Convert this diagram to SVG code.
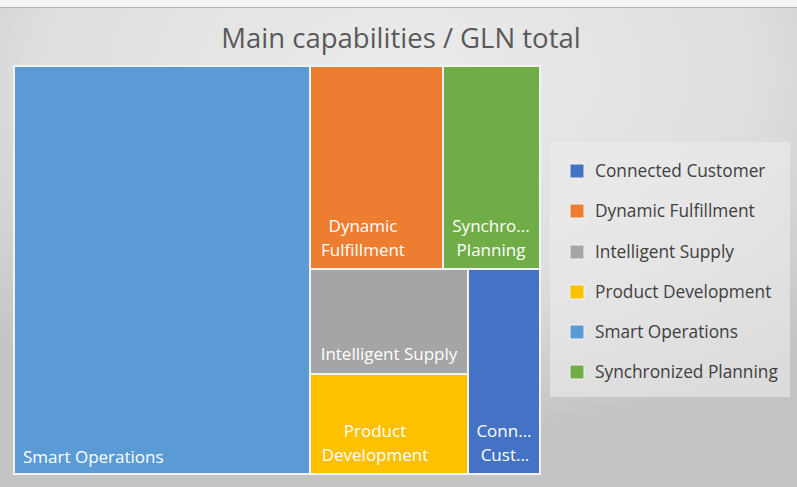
<svg xmlns="http://www.w3.org/2000/svg" width="797" height="487" viewBox="0 0 797 487">
<defs>
<radialGradient id="bg" cx="0.5" cy="0.15" r="0.75" gradientUnits="objectBoundingBox">
<stop offset="0" stop-color="#ececec"/>
<stop offset="0.6" stop-color="#dedede"/>
<stop offset="1" stop-color="#c4c4c4"/>
</radialGradient>
<style>
.cell{stroke:#f2f2f2;stroke-width:2}
.lbl{font-family:"Open Sans",Lato,sans-serif;font-size:17px;fill:#ffffff}
.leg{font-family:"Open Sans",Lato,sans-serif;font-size:17.3px;fill:#404040}
.sw{stroke:#f2f2f2;stroke-width:1}
</style>
</defs>
<rect x="0" y="0" width="797" height="487" fill="url(#bg)"/>
<rect x="0" y="0" width="797" height="7" fill="#f6f6f6"/>
<rect x="0" y="7" width="797" height="1" fill="#b4b4b4"/>
<text x="401" y="48" text-anchor="middle" font-family="'Open Sans',Lato,sans-serif" font-size="27.5" fill="#595959">Main capabilities / GLN total</text>
<g id="smart-operations"><rect class="cell" x="14" y="66" width="296" height="408" fill="#5b9bd5"/><text class="lbl" x="23" y="463">Smart Operations</text></g>
<g id="dynamic-fulfillment"><rect class="cell" x="310" y="66" width="133" height="203" fill="#ed7d31"/><text class="lbl" x="363" y="232" text-anchor="middle">Dynamic</text><text class="lbl" x="363" y="256" text-anchor="middle">Fulfillment</text></g>
<g id="synchronized-planning"><rect class="cell" x="443" y="66" width="97" height="203" fill="#70ad47"/><text class="lbl" x="491" y="232" text-anchor="middle">Synchro...</text><text class="lbl" x="491" y="256" text-anchor="middle">Planning</text></g>
<g id="intelligent-supply"><rect class="cell" x="310" y="269" width="158" height="105" fill="#a5a5a5"/><text class="lbl" x="389" y="360" text-anchor="middle">Intelligent Supply</text></g>
<g id="product-development"><rect class="cell" x="310" y="374" width="158" height="100" fill="#ffc000"/><text class="lbl" x="375" y="437" text-anchor="middle">Product</text><text class="lbl" x="375" y="461" text-anchor="middle">Development</text></g>
<g id="connected-customer"><rect class="cell" x="468" y="269" width="72" height="205" fill="#4472c4"/><text class="lbl" x="504" y="437" text-anchor="middle">Conn...</text><text class="lbl" x="505" y="461" text-anchor="middle">Cust...</text></g>
<g id="legend">
<rect x="550" y="142" width="240" height="255" fill="#ececec" opacity="0.6"/>
<rect class="sw" x="570" y="164" width="14" height="14" fill="#4472c4"/><text class="leg" x="595" y="177">Connected Customer</text>
<rect class="sw" x="570" y="204" width="14" height="14" fill="#ed7d31"/><text class="leg" x="595" y="217">Dynamic Fulfillment</text>
<rect class="sw" x="570" y="245" width="14" height="14" fill="#a5a5a5"/><text class="leg" x="595" y="258">Intelligent Supply</text>
<rect class="sw" x="570" y="285" width="14" height="14" fill="#ffc000"/><text class="leg" x="595" y="298">Product Development</text>
<rect class="sw" x="570" y="325" width="14" height="14" fill="#5b9bd5"/><text class="leg" x="595" y="338">Smart Operations</text>
<rect class="sw" x="570" y="365" width="14" height="14" fill="#70ad47"/><text class="leg" x="595" y="378">Synchronized Planning</text>
</g>
<g id="connectors"/>
</svg>
